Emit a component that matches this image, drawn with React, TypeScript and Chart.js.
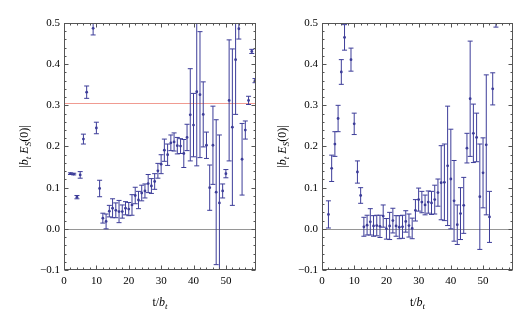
import React, { useEffect, useRef } from 'react';
import { Chart, registerables } from 'chart.js';
Chart.register(...registerables);

// ---- data ----
const T_LEFT = [2, 3, 4, 5, 6, 7, 9, 10, 11, 12, 13, 14, 15, 16, 17, 18, 19, 20, 21, 22, 23, 24, 25, 26, 27, 28, 29, 30, 31, 32, 33, 34, 35, 36, 37, 38, 39, 40, 41, 42, 43, 44, 45, 46, 47, 48, 49, 50, 51, 52, 53, 54, 55, 56, 57, 58, 59];
const V_LEFT = [0.134, 0.133, 0.077, 0.131, 0.218, 0.332, 0.487, 0.245, 0.098, 0.026, 0.018, 0.043, 0.05, 0.045, 0.042, 0.042, 0.05, 0.048, 0.058, 0.081, 0.07, 0.087, 0.092, 0.11, 0.104, 0.115, 0.141, 0.157, 0.191, 0.18, 0.209, 0.211, 0.202, 0.201, 0.183, 0.222, 0.277, 0.252, 0.333, 0.326, 0.278, 0.203, 0.1, 0.203, 0.089, 0.063, 0.092, 0.134, 0.312, 0.247, 0.411, 0.486, 0.169, 0.24, 0.312, 0.431, 0.36];
const E_LEFT = [0.002, 0.002, 0.004, 0.008, 0.012, 0.015, 0.016, 0.014, 0.02, 0.012, 0.018, 0.014, 0.023, 0.018, 0.027, 0.016, 0.016, 0.016, 0.025, 0.02, 0.021, 0.019, 0.017, 0.022, 0.018, 0.019, 0.018, 0.023, 0.027, 0.026, 0.019, 0.022, 0.02, 0.018, 0.034, 0.032, 0.112, 0.077, 0.18, 0.153, 0.079, 0.032, 0.055, 0.095, 0.176, 0.165, 0.017, 0.01, 0.147, 0.19, 0.133, 0.025, 0.087, 0.022, 0.01, 0.005, 0.005];

const T_RIGHT = [2, 3, 4, 5, 6, 7, 9, 10, 11, 12, 13, 14, 15, 16, 17, 18, 19, 20, 21, 22, 23, 24, 25, 26, 27, 28, 29, 30, 31, 32, 33, 34, 35, 36, 37, 38, 39, 40, 41, 42, 43, 44, 45, 46, 47, 48, 49, 50, 51, 52, 53, 54];
const V_RIGHT = [0.035, 0.147, 0.206, 0.268, 0.381, 0.465, 0.411, 0.255, 0.138, 0.081, 0.005, 0.009, 0.017, 0.007, 0.008, 0.006, 0.031, 0.0, 0.007, 0.02, 0.007, 0.004, 0.005, 0.018, 0.008, 0.001, 0.045, 0.071, 0.065, 0.058, 0.065, 0.063, 0.071, 0.088, 0.112, 0.113, 0.153, 0.121, 0.068, 0.01, 0.037, 0.057, 0.196, 0.316, 0.232, 0.222, 0.078, 0.136, 0.204, 0.029, 0.34, 0.505];
const E_RIGHT = [0.033, 0.032, 0.03, 0.032, 0.03, 0.031, 0.028, 0.026, 0.027, 0.019, 0.023, 0.024, 0.032, 0.025, 0.025, 0.027, 0.027, 0.025, 0.033, 0.03, 0.025, 0.028, 0.028, 0.026, 0.028, 0.025, 0.026, 0.028, 0.026, 0.024, 0.027, 0.028, 0.035, 0.033, 0.09, 0.093, 0.145, 0.121, 0.098, 0.048, 0.063, 0.068, 0.036, 0.14, 0.071, 0.059, 0.128, 0.085, 0.17, 0.062, 0.039, 0.015];

const X_TICKS = [0, 10, 20, 30, 40, 50];
const Y_TICKS = [-0.1, 0, 0.1, 0.2, 0.3, 0.4, 0.5];
const REF_LEFT = 0.306;

const BLUE = 'rgb(61,61,153)';
const ZERO_COLOR = 'rgb(150,150,150)';
const REF_COLOR = 'rgb(240,155,145)';
const SERIF = '"Liberation Serif", "Times New Roman", serif';

function fmtY(v: number) {
  const s = Math.abs(v).toFixed(1);
  return v < -1e-9 ? '\u2212' + s : s;
}

type RefLine = { value: number; color: string };

function makeDecor(t: number[], v: number[], e: number[], refLines: RefLine[]) {
  return {
    id: 'decor',
    beforeDatasetsDraw(chart: any) {
      const { ctx, chartArea: a, scales } = chart;
      const x = scales.x, y = scales.y;
      ctx.save();
      ctx.beginPath();
      ctx.rect(a.left, a.top, a.right - a.left, a.bottom - a.top);
      ctx.clip();
      for (const r of refLines) {
        const py = Math.round(y.getPixelForValue(r.value)) + 0.5;
        ctx.strokeStyle = r.color;
        ctx.lineWidth = 1;
        ctx.beginPath();
        ctx.moveTo(a.left, py);
        ctx.lineTo(a.right, py);
        ctx.stroke();
      }
      ctx.strokeStyle = BLUE;
      ctx.lineWidth = 1;
      for (let i = 0; i < t.length; i++) {
        const px = x.getPixelForValue(t[i]);
        const y1 = y.getPixelForValue(v[i] + e[i]);
        const y2 = y.getPixelForValue(v[i] - e[i]);
        ctx.beginPath();
        ctx.moveTo(px, y1);
        ctx.lineTo(px, y2);
        ctx.moveTo(px - 2.5, y1);
        ctx.lineTo(px + 2.5, y1);
        ctx.moveTo(px - 2.5, y2);
        ctx.lineTo(px + 2.5, y2);
        ctx.stroke();
      }
      ctx.restore();
    },
    afterDatasetsDraw(chart: any) {
      const { ctx, chartArea: a, scales } = chart;
      const x = scales.x, y = scales.y;
      ctx.save();
      ctx.strokeStyle = '#555';
      ctx.lineWidth = 1;
      const L = Math.round(a.left) + 0.5, R = Math.round(a.right) - 0.5;
      const T = Math.round(a.top) + 0.5, B = Math.round(a.bottom) - 0.5;
      ctx.strokeRect(L, T, R - L, B - T);
      ctx.beginPath();
      for (let k = 0; k <= 58; k += 2) {
        const px = Math.round(x.getPixelForValue(k)) + 0.5;
        const len = k % 10 === 0 ? 4 : 2;
        ctx.moveTo(px, B); ctx.lineTo(px, B - len);
        ctx.moveTo(px, T); ctx.lineTo(px, T + len);
      }
      for (let k = -10; k <= 50; k += 2) {
        const py = Math.round(y.getPixelForValue(k / 100)) + 0.5;
        const len = k % 10 === 0 ? 4 : 2;
        ctx.moveTo(L, py); ctx.lineTo(L + len, py);
        ctx.moveTo(R, py); ctx.lineTo(R - len, py);
      }
      ctx.stroke();
      ctx.restore();
    },
    afterDraw(chart: any) {
      const { ctx, chartArea: a } = chart;
      ctx.save();
      ctx.fillStyle = '#000';
      ctx.textBaseline = 'alphabetic';
      const big = '12px ' + SERIF, bigI = 'italic 12px ' + SERIF, sub = 'italic 9px ' + SERIF;
      const drawRuns = (runs: [string, string, number][], cx: number, cy: number, rot: boolean) => {
        let w = 0;
        for (const [s, f] of runs) { ctx.font = f; w += ctx.measureText(s).width; }
        ctx.save();
        ctx.translate(cx, cy);
        if (rot) ctx.rotate(-Math.PI / 2);
        let xx = -w / 2;
        for (const [s, f, dy] of runs) {
          ctx.font = f;
          ctx.fillText(s, xx, 4 + dy);
          xx += ctx.measureText(s).width;
        }
        ctx.restore();
      };
      drawRuns([
        ['|', big, 0], ['b', bigI, 0], ['t', sub, 3], [' ', big, 0], ['E', bigI, 0], ['S', sub, 3], ['(0)|', big, 0],
      ], 24, (a.top + a.bottom) / 2, true);
      drawRuns([
        ['t/', big, 0], ['b', bigI, 0], ['t', sub, 3],
      ], (a.left + a.right) / 2, 302, false);
      ctx.restore();
    },
  };
}

function Panel(props: { t: number[]; v: number[]; e: number[]; refLines: RefLine[]; left: number; padRight: number }) {
  const ref = useRef<HTMLCanvasElement | null>(null);
  useEffect(() => {
    const tickFont = { family: SERIF, size: 11 };
    const chart = new Chart(ref.current as HTMLCanvasElement, {
      type: 'scatter',
      data: {
        datasets: [{
          data: props.t.map((tt, i) => ({ x: tt, y: props.v[i] })),
          pointRadius: 1.4,
          pointBackgroundColor: BLUE,
          pointBorderWidth: 0,
          pointHoverRadius: 1.4,
          showLine: false,
        }],
      },
      options: {
        animation: false,
        responsive: false,
        devicePixelRatio: 1,
        events: [],
        layout: { padding: { left: 0, right: props.padRight, top: 23, bottom: 0 } },
        plugins: {
          legend: { display: false },
          tooltip: { enabled: false },
        },
        scales: {
          x: {
            type: 'linear', min: 0, max: 59.3,
            afterBuildTicks: (s: any) => { s.ticks = X_TICKS.map((value) => ({ value })); },
            afterFit: (s: any) => { s.height = 50; },
            ticks: { font: tickFont, color: '#000', padding: 5, maxRotation: 0, autoSkip: false, callback: (v: any) => String(v) },
            grid: { display: false, drawTicks: false },
            border: { display: false },
          },
          y: {
            type: 'linear', min: -0.1, max: 0.5,
            afterBuildTicks: (s: any) => { s.ticks = Y_TICKS.map((value) => ({ value })); },
            afterFit: (s: any) => { s.width = 64; },
            ticks: { font: tickFont, color: '#000', padding: 4, autoSkip: false, callback: (v: any) => fmtY(Number(v)) },
            grid: { display: false, drawTicks: false },
            border: { display: false },
          },
        },
      },
      plugins: [makeDecor(props.t, props.v, props.e, props.refLines)],
    } as any);
    return () => chart.destroy();
  }, []);
  return (
    <div style={{ position: 'absolute', left: props.left, top: 0, width: 258, height: 320 }}>
      <canvas ref={ref} width={258} height={320} style={{ display: 'block' }} />
    </div>
  );
}

export default function App() {
  return (
    <div style={{ position: 'fixed', left: 0, top: 0, width: 516, height: 320, background: '#fff' }}>
      <Panel t={T_LEFT} v={V_LEFT} e={E_LEFT} refLines={[{ value: 0, color: ZERO_COLOR }, { value: REF_LEFT, color: REF_COLOR }]} left={0} padRight={2} />
      <Panel t={T_RIGHT} v={V_RIGHT} e={E_RIGHT} refLines={[{ value: 0, color: ZERO_COLOR }]} left={258} padRight={3} />
    </div>
  );
}
